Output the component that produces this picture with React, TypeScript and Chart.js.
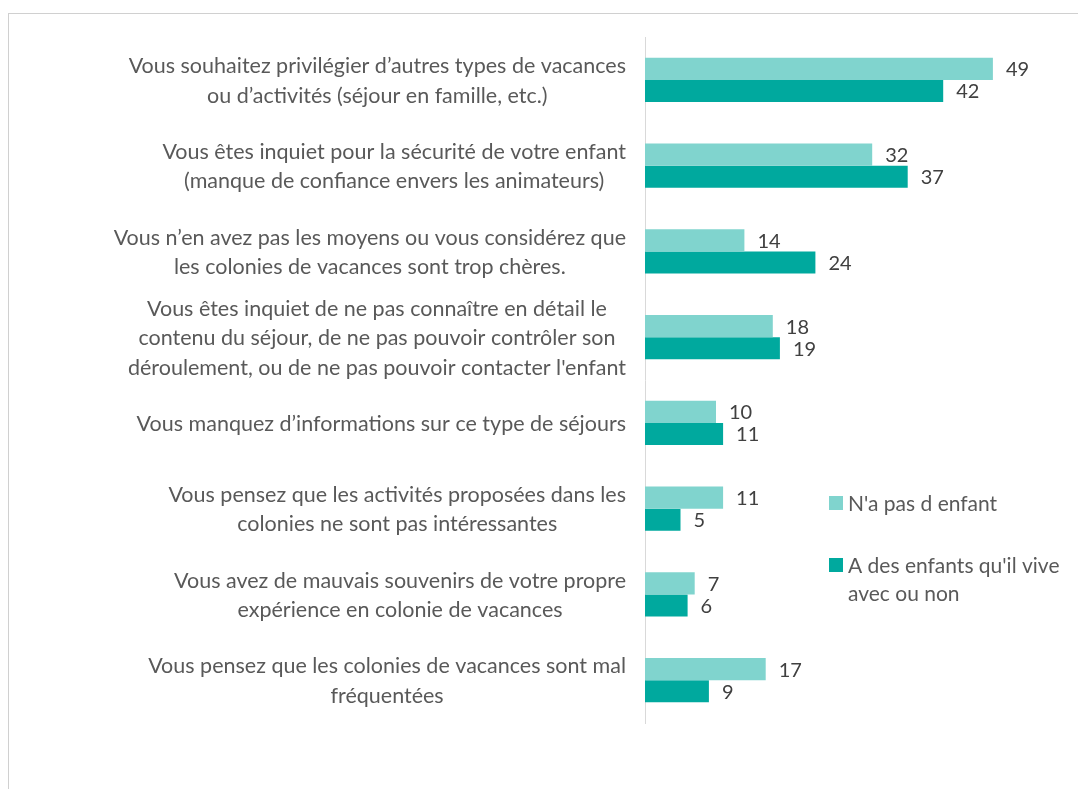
import React, { useEffect, useRef } from "react";
import { Chart, registerables } from "chart.js";

Chart.register(...registerables);

const categories: string[][] = [
  ["Vous souhaitez privilégier d’autres types de vacances", "ou d’activités (séjour en famille, etc.)"],
  ["Vous êtes inquiet pour la sécurité de votre enfant", "(manque de confiance envers les animateurs)"],
  ["Vous n’en avez pas les moyens ou vous considérez que", "les colonies de vacances sont trop chères."],
  ["Vous êtes inquiet de ne pas connaître en détail le", "contenu du séjour, de ne pas pouvoir contrôler son", "déroulement, ou de ne pas pouvoir contacter l'enfant"],
  ["Vous manquez d’informations sur ce type de séjours"],
  ["Vous pensez que les activités proposées dans les", "colonies ne sont pas intéressantes"],
  ["Vous avez de mauvais souvenirs de votre propre", "expérience en colonie de vacances"],
  ["Vous pensez que les colonies de vacances sont mal", "fréquentées"],
];

const seriesNames = ["N'a pas d enfant", "A des enfants qu'il vive avec ou non"];
const sansEnfant = [49, 32, 14, 18, 10, 11, 7, 17];
const avecEnfants = [42, 37, 24, 19, 11, 5, 6, 9];

const LIGHT = "#80d4ce";
const DARK = "#00a99e";
const FONT = "Lato, 'Open Sans', sans-serif";
const LABEL_SIZE = 21.5;
const LABEL_LINE = 29.5;

const categoryLabels = {
  id: "categoryLabels",
  afterDraw(chart: any) {
    const ctx = chart.ctx;
    const yScale = chart.scales.y;
    const right = chart.chartArea.left - 19;
    ctx.save();
    ctx.font = `${LABEL_SIZE}px ${FONT}`;
    ctx.fillStyle = "#595959";
    ctx.textBaseline = "middle";
    ctx.textAlign = "center";
    (chart.data.labels as string[][]).forEach((lines, i) => {
      const y = yScale.getPixelForTick(i);
      const maxW = Math.max(...lines.map((l) => ctx.measureText(l).width));
      const cx = right - maxW / 2;
      const y0 = y - ((lines.length - 1) * LABEL_LINE) / 2;
      lines.forEach((l, li) => ctx.fillText(l, cx, y0 + li * LABEL_LINE + 1));
    });
    ctx.restore();
  },
};

const valueLabels = {
  id: "valueLabels",
  afterDatasetsDraw(chart: any) {
    const ctx = chart.ctx;
    ctx.save();
    ctx.font = `20px ${FONT}`;
    ctx.fillStyle = "#404040";
    ctx.textBaseline = "middle";
    ctx.textAlign = "left";
    chart.data.datasets.forEach((ds: any, di: number) => {
      const meta = chart.getDatasetMeta(di);
      meta.data.forEach((el: any, i: number) => {
        ctx.fillText(String(ds.data[i]), el.x + 13, el.y + 1);
      });
    });
    ctx.restore();
  },
};

const sideLegend = {
  id: "sideLegend",
  afterDraw(chart: any) {
    const ctx = chart.ctx;
    ctx.save();
    ctx.font = `21px ${FONT}`;
    ctx.textBaseline = "middle";
    ctx.textAlign = "left";
    const x = 829;
    const starts = [503, 565];
    const maxW = 222;
    chart.data.datasets.forEach((ds: any, di: number) => {
      const words = String(ds.label).split(" ");
      const lines: string[] = [];
      let cur = "";
      words.forEach((w) => {
        const t = cur ? cur + " " + w : w;
        if (ctx.measureText(t).width > maxW && cur) {
          lines.push(cur);
          cur = w;
        } else cur = t;
      });
      if (cur) lines.push(cur);
      const y0 = starts[di];
      ctx.fillStyle = ds.backgroundColor;
      ctx.fillRect(x, y0 - 7, 14, 14);
      ctx.fillStyle = "#595959";
      lines.forEach((l, li) => ctx.fillText(l, x + 19, y0 + 1 + li * 28));
    });
    ctx.restore();
  },
};

export default function App() {
  const ref = useRef<HTMLCanvasElement | null>(null);
  useEffect(() => {
    if (!ref.current) return;
    const chart = new Chart(ref.current, {
      type: "bar",
      data: {
        labels: categories,
        datasets: [
          { label: seriesNames[0], data: sansEnfant, backgroundColor: LIGHT, borderWidth: 0 },
          { label: seriesNames[1], data: avecEnfants, backgroundColor: DARK, borderWidth: 0 },
        ],
      },
      options: {
        indexAxis: "y",
        animation: false,
        responsive: false,
        maintainAspectRatio: false,
        layout: { padding: { left: 0, top: 37, bottom: 66, right: 7 } },
        plugins: { legend: { display: false }, tooltip: { enabled: false } },
        scales: {
          x: { display: false, min: 0, max: 60 },
          y: {
            grid: { display: false, drawTicks: false },
            border: { display: true, color: "#d9d9d9", width: 1 },
            ticks: { display: false },
            afterFit(scale: any) {
              scale.width = 645;
            },
          },
        },
        datasets: { bar: { categoryPercentage: 0.514, barPercentage: 1 } },
      } as any,
      plugins: [categoryLabels, valueLabels, sideLegend],
    });
    return () => chart.destroy();
  }, []);

  return (
    <div style={{ position: "fixed", left: 0, top: 0, width: 1078, height: 789, overflow: "hidden", background: "#fff" }}>
      <div
        style={{
          position: "absolute",
          left: 8,
          top: 13,
          width: 1200,
          height: 900,
          border: "1px solid #d0d0d0",
          boxSizing: "border-box",
        }}
      />
      <canvas ref={ref} width={1078} height={789} style={{ position: "absolute", left: 0, top: 0 }} />
    </div>
  );
}
